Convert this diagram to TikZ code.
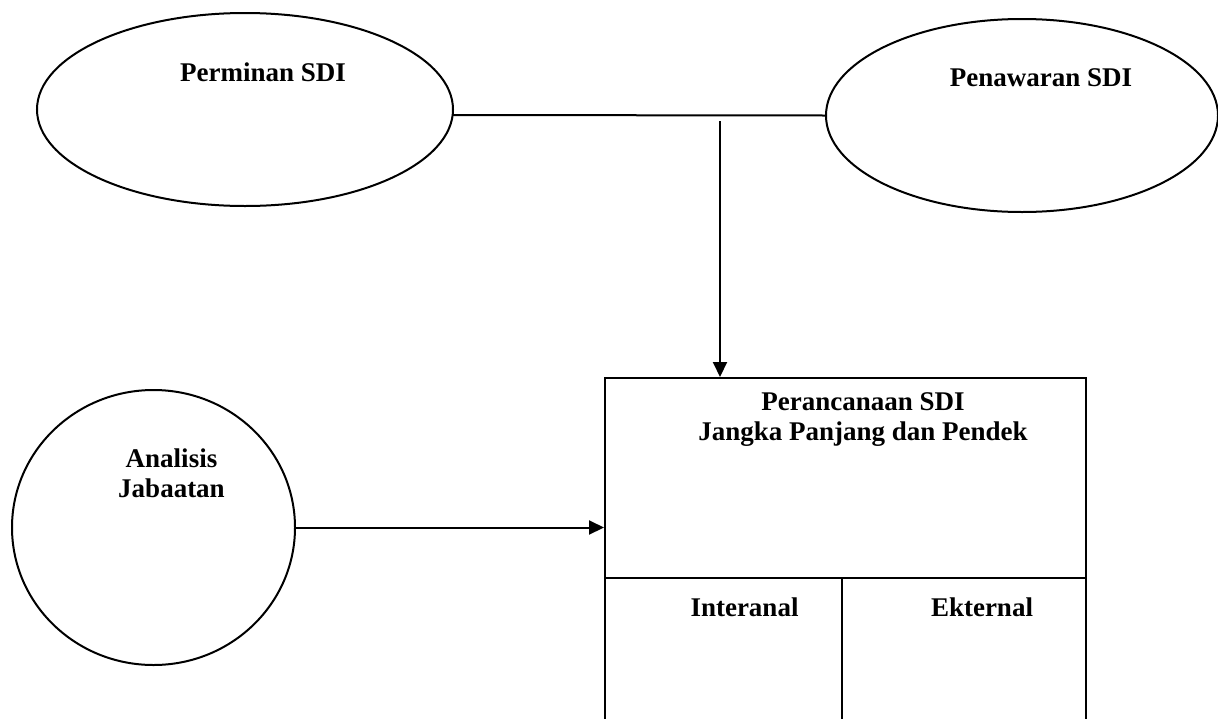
\documentclass[tikz,border=0pt]{standalone}
\usepackage{fontspec}
\setmainfont{Liberation Serif}
\usetikzlibrary{shapes.geometric,arrows.meta}
\begin{document}
\begin{tikzpicture}[x=1pt,y=-1pt,
  shapeline/.style={draw=black,line width=2pt},
  oval/.style={shapeline,ellipse,inner sep=0pt},
  lbl/.style={font=\fontsize{27}{30}\selectfont\bfseries,align=center,inner sep=0pt},
  conn/.style={draw=black,line width=2pt},
  arr/.style={conn,-{Triangle[length=15pt,width=14pt]}}]
\useasboundingbox (0,0) rectangle (1218,718);
\clip (0,0) rectangle (1218,718);
% ellipses
\node[oval,minimum width=416pt,minimum height=193pt] (dem) at (245,109.5) {};
\node[oval,minimum width=392pt,minimum height=193pt] (sup) at (1022,115.5) {};
\node[oval,minimum width=283pt,minimum height=275pt] (ana) at (153.5,527.5) {};
% box
\node[draw=black,line width=2.4pt,rectangle,minimum width=481pt,minimum height=400pt,inner sep=0pt,anchor=north west] (plan) at (604,377) {};
\coordinate (divL) at (604,578);
\coordinate (divR) at (1085,578);
\coordinate (divT) at (842,578);
\coordinate (divB) at (842,730);
\draw[line width=2.4pt] (divL) -- (divR);
\draw[line width=2.2pt] (divT) -- (divB);
% labels
\node[lbl] (tdem) at (263,72) {Perminan SDI};
\node[lbl] (tsup) at (1041,78) {Penawaran SDI};
\node[lbl] (tana) at (171.5,473) {Analisis\\Jabaatan};
\node[lbl] (tplan) at (863,420) {Perancanaan SDI\\Jangka Panjang dan Pendek};
\node[lbl] (tint) at (744.5,607) {Interanal};
\node[lbl] (text) at (982,607) {Ekternal};
% connectors
\coordinate (hl) at (453,115);
\draw[conn] (hl) -- (sup.west);
\coordinate (junc) at (720,121);
\draw[arr] (junc) -- (720,377);
\draw[arr] (ana.east) -- (ana.east -| plan.west);
\end{tikzpicture}
\end{document}
